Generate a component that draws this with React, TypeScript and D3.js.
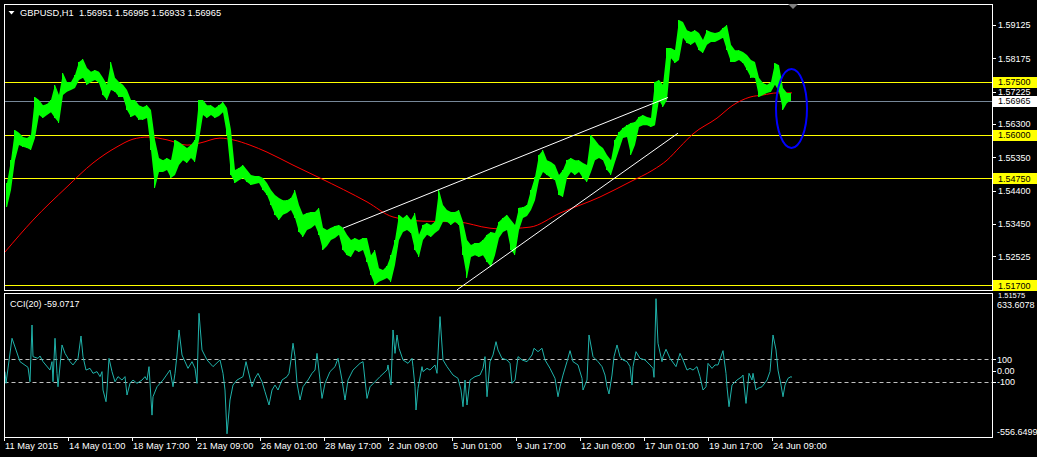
import React from 'react';
import * as d3 from 'd3';

// ---------- DATA ----------
// price range of each 4-hour block of H1 bars (block k covers bars 4k..4k+3)
const BARS_PER_BLOCK = 4;
const blockHigh = [
  1.5462, 1.5527, 1.5613, 1.5605, 1.5593, 1.5590, 1.5599, 1.5707, 1.5699, 1.5684,
  1.5687, 1.5699, 1.5742, 1.5713, 1.5776, 1.5750, 1.5750, 1.5770, 1.5807, 1.5816,
  1.5790, 1.5779, 1.5784, 1.5779, 1.5762, 1.5742, 1.5807, 1.5762, 1.5750, 1.5742,
  1.5727, 1.5699, 1.5699, 1.5684, 1.5679, 1.5684, 1.5670, 1.5585, 1.5533, 1.5527,
  1.5533, 1.5527, 1.5585, 1.5579, 1.5570, 1.5562, 1.5570, 1.5585, 1.5699, 1.5699,
  1.5684, 1.5684, 1.5676, 1.5684, 1.5693, 1.5676, 1.5613, 1.5499, 1.5505, 1.5513,
  1.5499, 1.5485, 1.5482, 1.5482, 1.5476, 1.5462, 1.5442, 1.5428, 1.5419, 1.5413,
  1.5413, 1.5419, 1.5442, 1.5399, 1.5371, 1.5376, 1.5379, 1.5379, 1.5391, 1.5334,
  1.5328, 1.5334, 1.5339, 1.5342, 1.5334, 1.5314, 1.5299, 1.5305, 1.5299, 1.5305,
  1.5305, 1.5256, 1.5271, 1.5219, 1.5214, 1.5225, 1.5256, 1.5299, 1.5371, 1.5362,
  1.5371, 1.5356, 1.5376, 1.5314, 1.5342, 1.5348, 1.5342, 1.5351, 1.5442, 1.5399,
  1.5385, 1.5379, 1.5379, 1.5385, 1.5351, 1.5299, 1.5285, 1.5291, 1.5291, 1.5299,
  1.5314, 1.5322, 1.5319, 1.5351, 1.5362, 1.5371, 1.5356, 1.5342, 1.5391, 1.5393,
  1.5399, 1.5442, 1.5479, 1.5542, 1.5556, 1.5527, 1.5522, 1.5513, 1.5485, 1.5499,
  1.5527, 1.5533, 1.5527, 1.5527, 1.5519, 1.5513, 1.5599, 1.5585, 1.5570, 1.5562,
  1.5542, 1.5527, 1.5585, 1.5607, 1.5619, 1.5627, 1.5633, 1.5636, 1.5650, 1.5656,
  1.5650, 1.5647, 1.5750, 1.5756, 1.5742, 1.5847, 1.5847, 1.5841, 1.5927, 1.5921,
  1.5898, 1.5893, 1.5898, 1.5890, 1.5870, 1.5898, 1.5893, 1.5890, 1.5893, 1.5904,
  1.5913, 1.5856, 1.5841, 1.5841, 1.5836, 1.5827, 1.5813, 1.5807, 1.5762, 1.5747,
  1.5742, 1.5750, 1.5804, 1.5798, 1.5733, 1.5719, 1.5719,
];
const blockLow = [
  1.5393, 1.5442, 1.5527, 1.5570, 1.5565, 1.5562, 1.5556, 1.5590, 1.5656, 1.5647,
  1.5656, 1.5664, 1.5647, 1.5633, 1.5713, 1.5722, 1.5727, 1.5733, 1.5756, 1.5762,
  1.5742, 1.5750, 1.5756, 1.5747, 1.5713, 1.5699, 1.5727, 1.5722, 1.5707, 1.5707,
  1.5670, 1.5650, 1.5656, 1.5642, 1.5642, 1.5647, 1.5556, 1.5448, 1.5493, 1.5493,
  1.5499, 1.5476, 1.5485, 1.5513, 1.5527, 1.5519, 1.5533, 1.5522, 1.5585, 1.5656,
  1.5647, 1.5656, 1.5647, 1.5653, 1.5664, 1.5599, 1.5485, 1.5462, 1.5470, 1.5476,
  1.5465, 1.5456, 1.5459, 1.5462, 1.5442, 1.5428, 1.5399, 1.5371, 1.5356, 1.5371,
  1.5376, 1.5385, 1.5362, 1.5322, 1.5308, 1.5328, 1.5333, 1.5342, 1.5314, 1.5271,
  1.5282, 1.5299, 1.5305, 1.5314, 1.5271, 1.5256, 1.5251, 1.5271, 1.5265, 1.5271,
  1.5237, 1.5199, 1.5171, 1.5180, 1.5185, 1.5191, 1.5180, 1.5228, 1.5299, 1.5322,
  1.5328, 1.5319, 1.5271, 1.5251, 1.5299, 1.5314, 1.5308, 1.5319, 1.5328, 1.5351,
  1.5351, 1.5342, 1.5351, 1.5342, 1.5256, 1.5191, 1.5251, 1.5256, 1.5251, 1.5256,
  1.5237, 1.5222, 1.5256, 1.5305, 1.5322, 1.5328, 1.5271, 1.5256, 1.5328, 1.5362,
  1.5368, 1.5385, 1.5413, 1.5470, 1.5493, 1.5485, 1.5476, 1.5470, 1.5428, 1.5422,
  1.5476, 1.5493, 1.5485, 1.5493, 1.5476, 1.5465, 1.5493, 1.5527, 1.5533, 1.5527,
  1.5499, 1.5485, 1.5522, 1.5556, 1.5590, 1.5593, 1.5542, 1.5570, 1.5622, 1.5627,
  1.5627, 1.5622, 1.5627, 1.5699, 1.5679, 1.5699, 1.5818, 1.5804, 1.5813, 1.5876,
  1.5861, 1.5856, 1.5864, 1.5841, 1.5833, 1.5856, 1.5864, 1.5864, 1.5870, 1.5876,
  1.5841, 1.5807, 1.5807, 1.5813, 1.5804, 1.5784, 1.5762, 1.5762, 1.5707, 1.5713,
  1.5719, 1.5722, 1.5742, 1.5722, 1.5670, 1.5690, 1.5697,
];

// moving average (red) vertices
const maBars = [0, 28, 62, 88, 112, 128, 143, 162, 182, 195, 215, 228, 245, 262, 288, 315, 362, 388, 418, 452, 485, 495, 525, 555, 595, 625, 648, 662, 675, 688, 712, 728, 745, 758, 772, 787];
const maValues = [1.5265, 1.5356, 1.5451, 1.5519, 1.5565, 1.5587, 1.5593, 1.5585, 1.5570, 1.5576, 1.5590, 1.5585, 1.5570, 1.5550, 1.5513, 1.5476, 1.5408, 1.5365, 1.5353, 1.5351, 1.5333, 1.5331, 1.5336, 1.5376, 1.5422, 1.5465, 1.5499, 1.5527, 1.5565, 1.5602, 1.5647, 1.5684, 1.5707, 1.5713, 1.5719, 1.5719];

// CCI(20) vertices
const cciBars = [
  0, 1, 7, 15, 23, 25, 27, 28, 33, 35, 38, 45, 47, 48, 50, 52, 53, 57, 60, 65,
  68, 73, 76, 78, 81, 85, 88, 92, 95, 97, 98, 101, 102, 104, 107, 110, 113, 117, 120, 122,
  125, 128, 132, 137, 140, 142, 144, 147, 148, 152, 158, 165, 168, 170, 172, 174, 177, 180, 183, 187,
  190, 192, 194, 197, 202, 208, 215, 218, 220, 222, 225, 228, 232, 238, 241, 243, 247, 250, 253, 257,
  260, 264, 267, 270, 273, 277, 282, 284, 286, 288, 290, 292, 295, 298, 303, 307, 310, 312, 315, 317,
  320, 325, 330, 333, 337, 340, 343, 348, 355, 358, 362, 365, 370, 375, 382, 383, 386,
  388, 390, 392, 394, 398, 403, 407, 408, 410, 411, 413, 417, 418, 422, 425, 430, 432, 435, 438, 442,
  448, 453, 456, 458, 460, 462, 465, 470, 475, 478, 480, 482, 485, 488, 491, 493, 497, 502, 505, 507,
  510, 513, 517, 522, 527, 529, 533, 537, 540, 545, 550, 553, 555, 558, 562, 565, 568, 573, 577, 578,
  582, 584, 588, 593, 597, 600, 602, 604, 607, 609, 612, 615, 618, 622, 625, 627, 628, 631, 635, 640,
  645, 648, 649, 651, 653, 657, 658, 661, 665, 671, 675, 678, 682, 685, 688, 692, 695, 698, 701, 703,
  707, 710, 713, 718, 721, 722, 724, 727, 732, 737, 738, 741, 744, 747, 748, 751, 753, 757, 762, 765,
  768, 771, 773, 776, 778, 780, 783, 786, 787,
];
const cciValues = [
  -9, -112, 285, 79, 29, -98, 402, 123, 108, 129, 79, 5, 79, -98, 285, -24, -142, 226, 152, 79,
  50, 108, 305, 123, 5, 20, -24, -9, -53, -9, -171, -274, -171, 108, -9, -98, -53, -83, -53, -215,
  -112, -83, -112, -83, -53, -83, 35, -392, -230, -142, -83, 5, -142, -24, 138, 358, 138, 79, 20, 79,
  20, -112, 505, 182, 94, 35, 94, -24, -171, -556.6499, -259, -127, -83, -53, 79, 5, -142, -68, -24, -98,
  -186, -303, -171, -127, -171, -83, -53, -24, 94, 241, 123, -112, -259, -142, -83, -24, 5, 152, -83, -245,
  -112, -9, 35, 108, -83, -259, -83, 5, 64, 79, -245, -142, -98, -53, 5, 50, -127,
  358, 152, 314, 197, 94, 64, 108, 35, -142, -347, -156, 35, -9, 20, 5, 50, -24, 476, 94, 35,
  -39, -68, -171, -318, -83, -303, -83, -53, -39, 20, 123, -230, 79, 138, 255, 182, 108, 94, 64, -112,
  -83, 123, 94, 79, 138, 197, 167, 197, 94, 20, -68, -230, -142, -39, 79, 176, 79, 50, -68, -171,
  -83, 314, 123, 79, 35, -39, -142, -206, -39, 123, 226, 123, 94, 79, 35, -127, 35, 167, 108, 94,
  50, 20, -59, 633.6078, 241, 79, 123, 188, 108, 35, 152, 94, 5, 20, 5, 35, -53, -171, -142, 64,
  20, 50, 50, 176, -24, -142, -318, -127, -83, -53, -39, -289, -24, -83, -24, -171, -156, -142, -83, -9,
  314, 182, 5, -127, -230, -127, -68, -53, -59.0717,
];

const priceTicks = [1.59125, 1.58175, 1.57225, 1.563, 1.5535, 1.544, 1.5345, 1.52525];
const clippedTick = 1.51575;
const levelLines = [1.575, 1.56, 1.5475, 1.517];
const bidPrice = 1.56965;
const cciLevels = [100, -100];
const cciMin = -556.6499;
const cciMax = 633.6078;
const timeLabels = ['11 May 2015', '14 May 01:00', '18 May 17:00', '21 May 09:00', '26 May 01:00', '28 May 17:00', '2 Jun 09:00', '5 Jun 01:00', '9 Jun 17:00', '12 Jun 09:00', '17 Jun 01:00', '19 Jun 17:00', '24 Jun 09:00'];
const timeLabelBars = [0, 64, 128, 192, 256, 320, 384, 448, 512, 576, 640, 704, 768];
const upperTrend = { bars: [338, 663], prices: [1.5333, 1.5706] };
const lowerTrend = { bars: [452, 673], prices: [1.5157, 1.5604] };
const ellipseBox = { bar0: 771, bar1: 802, p0: 1.5787, p1: 1.5562 };
const titleText = 'GBPUSD,H1  1.56951 1.56995 1.56933 1.56965';
const cciTitle = 'CCI(20) -59.0717';

// ---------- LAYOUT ----------
const W = 1037;
const H = 457;
const L = 4.5;
const R = 992.5;
const MAIN_T = 4.5;
const MAIN_B = 290.5;
const CCI_T = 293.5;
const CCI_B = 437.5;
const FONT = '"Liberation Sans", Arial, sans-serif';

const x = d3.scaleLinear().domain([0, 987]).range([5, 992]);
const y = d3.scaleLinear().domain([1.51566, 1.59726]).range([290, 4]);
const yc = d3.scaleLinear().domain([cciMin, cciMax]).range([433.8, 298.7]);

export default function App() {
  const maLine = d3
    .line<number>()
    .x((_, i) => x(maBars[i]))
    .y((d) => y(d))
    .curve(d3.curveMonotoneX);
  const cciLine = d3
    .line<number>()
    .x((_, i) => x(cciBars[i]))
    .y((d) => yc(d));
  const priceBand = d3
    .area<number>()
    .x((_, k) => x(k * BARS_PER_BLOCK + BARS_PER_BLOCK / 2))
    .y0((_, k) => y(blockLow[k]))
    .y1((d) => y(d))
    .curve(d3.curveLinear);

  const fmt5 = d3.format('.5f');
  const highlighted = [
    ...levelLines.map((p) => ({ p, bg: '#ffff00' })),
    { p: bidPrice, bg: '#ffffff' },
  ];

  return (
    <svg
      width={W}
      height={H}
      style={{ position: 'absolute', left: 0, top: 0, display: 'block', background: '#000' }}
      fontFamily={FONT}
    >
      <rect x={0} y={0} width={W} height={H} fill="#000" />
      <defs>
        <clipPath id="mainClip">
          <rect x={L} y={MAIN_T} width={R - L} height={MAIN_B - MAIN_T} />
        </clipPath>
        <clipPath id="cciClip">
          <rect x={L} y={CCI_T} width={R - L} height={CCI_B - CCI_T} />
        </clipPath>
      </defs>

      {/* main panel */}
      <g clipPath="url(#mainClip)">
        {levelLines.map((p) => (
          <line key={p} x1={L} x2={R} y1={Math.round(y(p)) + 0.5} y2={Math.round(y(p)) + 0.5} stroke="#ffff00" strokeWidth={1} />
        ))}
        <line x1={L} x2={R} y1={Math.round(y(bidPrice)) + 0.5} y2={Math.round(y(bidPrice)) + 0.5} stroke="#778899" strokeWidth={1} />
        <path d={maLine(maValues) || ''} fill="none" stroke="#ff0000" strokeWidth={1} />
        <path d={priceBand(blockHigh) || ''} fill="#00ff00" stroke="none" />
        <g stroke="#00ff00" strokeWidth={1} shapeRendering="crispEdges">
          {blockHigh.map((hi, k) => (
            <line
              key={k}
              x1={Math.round(x(k * BARS_PER_BLOCK + 1)) + 0.5}
              x2={Math.round(x(k * BARS_PER_BLOCK + 1)) + 0.5}
              y1={y(hi)}
              y2={y(blockLow[k])}
            />
          ))}
        </g>
        <line x1={x(upperTrend.bars[0])} y1={y(upperTrend.prices[0])} x2={x(upperTrend.bars[1])} y2={y(upperTrend.prices[1])} stroke="#ffffff" strokeWidth={1} />
        <line x1={x(lowerTrend.bars[0])} y1={y(lowerTrend.prices[0])} x2={x(lowerTrend.bars[1])} y2={y(lowerTrend.prices[1])} stroke="#ffffff" strokeWidth={1} />
        <ellipse
          cx={(x(ellipseBox.bar0) + x(ellipseBox.bar1)) / 2}
          cy={(y(ellipseBox.p0) + y(ellipseBox.p1)) / 2}
          rx={(x(ellipseBox.bar1) - x(ellipseBox.bar0)) / 2}
          ry={(y(ellipseBox.p1) - y(ellipseBox.p0)) / 2}
          fill="none"
          stroke="#0000ff"
          strokeWidth={2}
        />
      </g>
      <rect x={L} y={MAIN_T} width={R - L} height={MAIN_B - MAIN_T} fill="none" stroke="#ffffff" strokeWidth={1} />
      {/* shift marker */}
      <path d="M788,4 L798,4 L793,9 Z" fill="#808080" />
      {/* title */}
      <path d="M8.5,11 L14.5,11 L11.5,14.5 Z" fill="#ffffff" />
      <text x={20} y={16} fontSize={9.3} fill="#ffffff" style={{ whiteSpace: 'pre' }}>
        {titleText}
      </text>

      {/* price axis */}
      <g fontSize={9} fill="#ffffff">
        {priceTicks.map((p) => (
          <g key={p}>
            <line x1={993} x2={996} y1={Math.round(y(p)) + 0.5} y2={Math.round(y(p)) + 0.5} stroke="#ffffff" />
            <text x={998} y={y(p) + 3.3}>{fmt5(p)}</text>
          </g>
        ))}
        <text x={998} y={297.6} fontSize={7.5}>{fmt5(clippedTick)}</text>
      </g>
      {highlighted.map(({ p, bg }) => (
        <g key={p}>
          <rect x={993} y={Math.round(y(p)) - 5} width={44} height={11} fill={bg} />
          <text x={998} y={y(p) + 3.4} fontSize={9} fill="#000000">
            {fmt5(p)}
          </text>
        </g>
      ))}

      {/* CCI panel */}
      <g clipPath="url(#cciClip)">
        {cciLevels.map((v) => (
          <line key={v} x1={L} x2={R} y1={Math.round(yc(v)) + 0.5} y2={Math.round(yc(v)) + 0.5} stroke="#c0c0c0" strokeDasharray="4,3" strokeWidth={1} />
        ))}
        <path d={cciLine(cciValues) || ''} fill="none" stroke="#20b2aa" strokeWidth={1} />
      </g>
      <rect x={L} y={CCI_T} width={R - L} height={CCI_B - CCI_T} fill="none" stroke="#ffffff" strokeWidth={1} />
      <text x={10} y={307} fontSize={9} fill="#ffffff">
        {cciTitle}
      </text>
      <g fontSize={9} fill="#ffffff">
        <text x={997} y={308}>{cciMax.toFixed(4)}</text>
        {[100, 0, -100].map((v) => (
          <g key={v}>
            <line x1={993} x2={996} y1={Math.round(yc(v)) + 0.5} y2={Math.round(yc(v)) + 0.5} stroke="#ffffff" />
            <text x={997} y={yc(v) + 3.3}>{v === 0 ? '0.00' : String(v)}</text>
          </g>
        ))}
        <text x={997} y={435}>{cciMin.toFixed(4)}</text>
      </g>

      {/* time axis */}
      <g fontSize={9.3} fill="#ffffff">
        {timeLabelBars.map((b, i) => (
          <g key={b}>
            <line x1={Math.round(x(b)) - 0.5} x2={Math.round(x(b)) - 0.5} y1={CCI_B} y2={441} stroke="#ffffff" />
            <text x={x(b)} y={449}>{timeLabels[i]}</text>
          </g>
        ))}
      </g>
    </svg>
  );
}
